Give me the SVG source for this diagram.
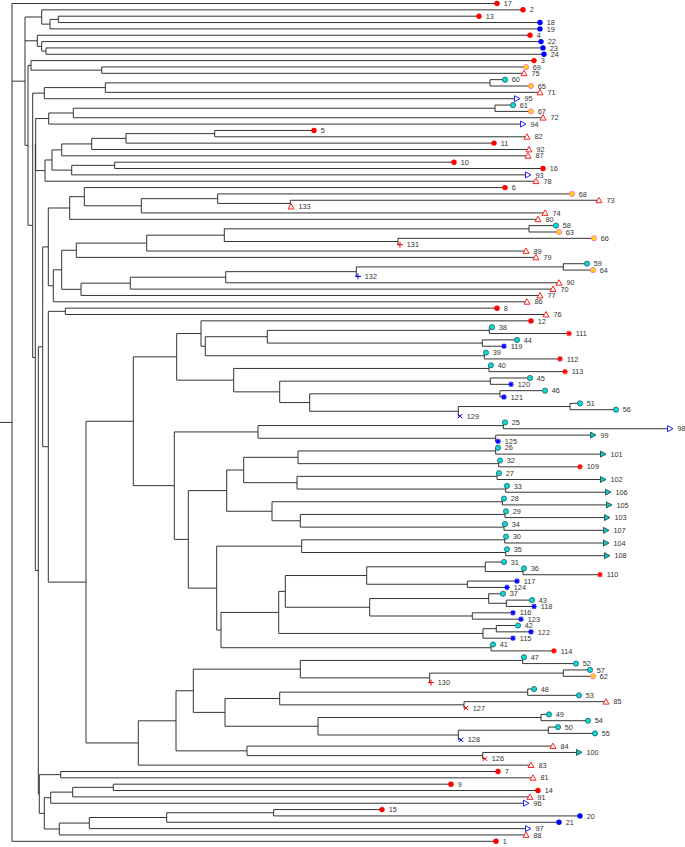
<svg xmlns="http://www.w3.org/2000/svg" xmlns:xlink="http://www.w3.org/1999/xlink" width="685" height="847" viewBox="0 0 685 847">
<style>
.e path{fill:none;stroke:#333;stroke-width:1;vector-effect:non-scaling-stroke}
text{font-family:"Liberation Sans",Arial,sans-serif;font-size:7.3px;fill:#333}
</style>
<defs>
<circle id="rd" r="2.7" fill="#ff0000"/>
<circle id="bd" r="2.7" fill="#0000ff"/>
<circle id="cy" r="2.6" fill="#10d8d8" stroke="#1f5f5f" stroke-width="0.8"/>
<circle id="yl" r="2.6" fill="#ffd800" stroke="#ff70d0" stroke-width="0.9"/>
<polygon id="rt" points="0,-3 3,2.4 -3,2.4" fill="#fff" stroke="#ff2020" stroke-width="1"/>
<polygon id="bt" points="-2.5,-3 3,0 -2.5,3" fill="#fff" stroke="#2020ff" stroke-width="1"/>
<polygon id="tt" points="-2.5,-3 3,0 -2.5,3" fill="#10c8c8" stroke="#1f4f4f" stroke-width="0.9"/>
<path id="rs" d="M-2.8 0H2.8M0 -2.8V2.8M-2 -2L2 2M-2 2L2 -2" stroke="#ff0000" stroke-width="1.1"/>
<path id="bs" d="M-2.8 0H2.8M0 -2.8V2.8M-2 -2L2 2M-2 2L2 -2" stroke="#0000ff" stroke-width="1.1"/>
<path id="rp" d="M-3 0H3M0 -3V3" stroke="#ff0000" stroke-width="1"/>
<path id="bp" d="M-3 0H3M0 -3V3" stroke="#0000ff" stroke-width="1"/>
<path id="rx" d="M-2.2 -2.2L2.2 2.2M-2.2 2.2L2.2 -2.2" stroke="#ff0000" stroke-width="1"/>
<path id="bx" d="M-2.2 -2.2L2.2 2.2M-2.2 2.2L2.2 -2.2" stroke="#0000ff" stroke-width="1"/>
</defs>
<rect width="685" height="847" fill="#fff"/>
<g id="edges" class="e" transform="translate(0,3.5) scale(1,6.347)">
<path d="M497 0H12V132H496M12 12.24H25M0 66H12"/>
<path d="M41.7 2.125H25V22.35H28M25 5.875H37.3"/>
<path d="M523 1H41.7V3.25H50"/>
<path d="M58.3 2.5H50V4H540"/>
<path d="M479 2H58.3V3H540"/>
<path d="M530 5H37.3V6.75H41.7"/>
<path d="M541 6H41.7V7.5H46"/>
<path d="M543 7H46V8H544"/>
<path d="M31 9.75H28V34.95H32.7"/>
<path d="M534 9H31V10.5H101.7"/>
<path d="M526 10H101.7V11H524"/>
<path d="M44.3 14.125H32.7V55.77H35.3"/>
<path d="M35.7 22.227H35.3V89.32H38.3"/>
<path d="M105.3 13.25H44.3V15H517"/>
<path d="M490 12.5H105.3V14H540"/>
<path d="M505 12H490V13H531"/>
<path d="M48.7 18.125H35.7V26.328H45"/>
<path d="M73.3 17.25H48.7V19H523"/>
<path d="M495 16.5H73.3V18H543"/>
<path d="M513 16H495V17H531"/>
<path d="M52 24.656H45V28H536"/>
<path d="M61.7 23.0625H52V26.25H71.7"/>
<path d="M91.7 22.125H61.7V24H528"/>
<path d="M126 21.25H91.7V23H529"/>
<path d="M214.7 20.5H126V22H494"/>
<path d="M314 20H214.7V21H527"/>
<path d="M114.7 25.5H71.7V27H528"/>
<path d="M454 25H114.7V26H543"/>
<path d="M42.7 54.09H38.3V124.547H39.3"/>
<path d="M48.3 38.348H42.7V69.832H48.3"/>
<path d="M69.7 32.219H48.3V44.477H53.3"/>
<path d="M84.3 30.4375H69.7V34H538"/>
<path d="M505 29H84.3V31.875H141.3"/>
<path d="M217.7 30.75H141.3V33H545"/>
<path d="M572 30H217.7V31.5H290.3"/>
<path d="M599 31H290.3V32H291"/>
<path d="M61.7 41.953H53.3V47H527"/>
<path d="M76.3 38.875H61.7V45.031H81"/>
<path d="M146.7 37.75H76.3V40H536"/>
<path d="M224.3 36.5H146.7V39H526"/>
<path d="M529 35.5H224.3V37.5H398"/>
<path d="M556 35H529V36H559"/>
<path d="M594 37H398V38H400"/>
<path d="M130.3 44.0625H81V46H540"/>
<path d="M225.7 43.125H130.3V45H553"/>
<path d="M356.3 42.25H225.7V44H559"/>
<path d="M563.3 41.5H356.3V43H358"/>
<path d="M587 41H563.3V42H593"/>
<path d="M65.3 48.5H48.3V91.164H86"/>
<path d="M497 48H65.3V49H546"/>
<path d="M133.3 65.82H86V116.508H138.3"/>
<path d="M176.7 55.672H133.3V75.965H174.3"/>
<path d="M201 52H176.7V59.344H233.7"/>
<path d="M531 50H201V54H205.3"/>
<path d="M267.3 52.5H205.3V55.5H484.3"/>
<path d="M489.3 51.5H267.3V53.5H482.3"/>
<path d="M492 51H489.3V52H569"/>
<path d="M517 53H482.3V54H504"/>
<path d="M486 55H484.3V56H560"/>
<path d="M489 57.5H233.7V61.1875H279.7"/>
<path d="M491 57H489V58H565"/>
<path d="M490.3 59.5H279.7V62.875H309.7"/>
<path d="M530 59H490.3V60H511"/>
<path d="M500 61.5H309.7V64.25H458.3"/>
<path d="M545 61H500V62H504"/>
<path d="M570 63.5H458.3V65H460"/>
<path d="M580 63H570V64H616"/>
<path d="M258 67.5H174.3V84.43H188.3"/>
<path d="M503.3 66.5H258V68.5H495.7"/>
<path d="M505 66H503.3V67H670"/>
<path d="M593 68H495.7V69H498"/>
<path d="M226.7 76.75H188.3V92.11H216.7"/>
<path d="M243.7 73.5H226.7V80H272"/>
<path d="M298 71.5H243.7V75.5H297"/>
<path d="M495.7 70.5H298V72.5H498.7"/>
<path d="M498 70H495.7V71H603"/>
<path d="M500 72H498.7V73H580"/>
<path d="M497 74.5H297V76.5H505.7"/>
<path d="M499 74H497V75H603"/>
<path d="M507 76H505.7V77H608"/>
<path d="M502.3 78.5H272V81.5H300.3"/>
<path d="M504 78H502.3V79H609"/>
<path d="M505 80.5H300.3V82.5H504"/>
<path d="M506 80H505V81H607"/>
<path d="M505 82H504V83H606"/>
<path d="M301.7 85.5H216.7V98.72H221"/>
<path d="M504.7 84.5H301.7V86.5H505.7"/>
<path d="M506 84H504.7V85H606"/>
<path d="M507 86H505.7V87H607"/>
<path d="M278.7 95.9375H221V101.5H491"/>
<path d="M285.3 92.625H278.7V99.25H483"/>
<path d="M366.7 90.125H285.3V95.125H369.7"/>
<path d="M485.3 88.75H366.7V91.5H467.3"/>
<path d="M504 88H485.3V89.5H523"/>
<path d="M524 89H523V90H600"/>
<path d="M517 91H467.3V92H507"/>
<path d="M488.7 93.75H369.7V96.5H472.3"/>
<path d="M503 93H488.7V94.5H506.3"/>
<path d="M532 94H506.3V95H534"/>
<path d="M513 96H472.3V97H521"/>
<path d="M496.3 98.5H483V100H513"/>
<path d="M518 98H496.3V99H531"/>
<path d="M493 101H491V102H554"/>
<path d="M176 113.016H138.3V120H531"/>
<path d="M193.3 108.28H176V117.75H247"/>
<path d="M300.3 104.875H193.3V111.6875H225"/>
<path d="M522.7 103.5H300.3V106.25H429.7"/>
<path d="M524 103H522.7V104H576"/>
<path d="M563.3 105.5H429.7V107H431"/>
<path d="M590 105H563.3V106H593"/>
<path d="M279.7 109.5H225V113.875H318"/>
<path d="M527.7 108.5H279.7V110.5H464"/>
<path d="M534 108H527.7V109H579"/>
<path d="M606 110H464V111H466"/>
<path d="M541 112.5H318V115.25H458.3"/>
<path d="M549 112H541V113H588"/>
<path d="M548.3 114.5H458.3V116H461"/>
<path d="M558 114H548.3V115H595"/>
<path d="M553 117H247V118.5H482.7"/>
<path d="M579 118H482.7V119H485"/>
<path d="M60.7 121.5H39.3V127.59H44.3"/>
<path d="M498 121H60.7V122H533"/>
<path d="M50.7 125.125H44.3V130.0625H59.3"/>
<path d="M72.7 124.25H50.7V126H526"/>
<path d="M113.3 123.5H72.7V125H530"/>
<path d="M451 123H113.3V124H538"/>
<path d="M89.3 129.125H59.3V131H526"/>
<path d="M166.7 128.25H89.3V130H528"/>
<path d="M273.7 127.5H166.7V129H559"/>
<path d="M382 127H273.7V128H580"/>
</g>
<g id="leaves">
<g id="n17" transform="translate(497,3.5)"><use href="#rd"/><text x="6.8" y="2.6">17</text></g>
<g id="n2" transform="translate(523,9.8)"><use href="#rd"/><text x="6.8" y="2.6">2</text></g>
<g id="n13" transform="translate(479,16.2)"><use href="#rd"/><text x="6.8" y="2.6">13</text></g>
<g id="n18" transform="translate(540,22.5)"><use href="#bd"/><text x="6.8" y="2.6">18</text></g>
<g id="n19" transform="translate(540,28.9)"><use href="#bd"/><text x="6.8" y="2.6">19</text></g>
<g id="n4" transform="translate(530,35.2)"><use href="#rd"/><text x="6.8" y="2.6">4</text></g>
<g id="n22" transform="translate(541,41.6)"><use href="#bd"/><text x="6.8" y="2.6">22</text></g>
<g id="n23" transform="translate(543,47.9)"><use href="#bd"/><text x="6.8" y="2.6">23</text></g>
<g id="n24" transform="translate(544,54.3)"><use href="#bd"/><text x="6.8" y="2.6">24</text></g>
<g id="n3" transform="translate(534,60.6)"><use href="#rd"/><text x="6.8" y="2.6">3</text></g>
<g id="n69" transform="translate(526,67)"><use href="#yl"/><text x="6.8" y="2.6">69</text></g>
<g id="n75" transform="translate(524,73.3)"><use href="#rt"/><text x="7.5" y="2.6">75</text></g>
<g id="n60" transform="translate(505,79.7)"><use href="#cy"/><text x="6.8" y="2.6">60</text></g>
<g id="n65" transform="translate(531,86)"><use href="#yl"/><text x="6.8" y="2.6">65</text></g>
<g id="n71" transform="translate(540,92.4)"><use href="#rt"/><text x="7.5" y="2.6">71</text></g>
<g id="n95" transform="translate(517,98.7)"><use href="#bt"/><text x="7.5" y="2.6">95</text></g>
<g id="n61" transform="translate(513,105.1)"><use href="#cy"/><text x="6.8" y="2.6">61</text></g>
<g id="n67" transform="translate(531,111.4)"><use href="#yl"/><text x="6.8" y="2.6">67</text></g>
<g id="n72" transform="translate(543,117.7)"><use href="#rt"/><text x="7.5" y="2.6">72</text></g>
<g id="n94" transform="translate(523,124.1)"><use href="#bt"/><text x="7.5" y="2.6">94</text></g>
<g id="n5" transform="translate(314,130.4)"><use href="#rd"/><text x="6.8" y="2.6">5</text></g>
<g id="n82" transform="translate(527,136.8)"><use href="#rt"/><text x="7.5" y="2.6">82</text></g>
<g id="n11" transform="translate(494,143.1)"><use href="#rd"/><text x="6.8" y="2.6">11</text></g>
<g id="n92" transform="translate(529,149.5)"><use href="#rt"/><text x="7.5" y="2.6">92</text></g>
<g id="n87" transform="translate(528,155.8)"><use href="#rt"/><text x="7.5" y="2.6">87</text></g>
<g id="n10" transform="translate(454,162.2)"><use href="#rd"/><text x="6.8" y="2.6">10</text></g>
<g id="n16" transform="translate(543,168.5)"><use href="#rd"/><text x="6.8" y="2.6">16</text></g>
<g id="n93" transform="translate(528,174.9)"><use href="#bt"/><text x="7.5" y="2.6">93</text></g>
<g id="n78" transform="translate(536,181.2)"><use href="#rt"/><text x="7.5" y="2.6">78</text></g>
<g id="n6" transform="translate(505,187.6)"><use href="#rd"/><text x="6.8" y="2.6">6</text></g>
<g id="n68" transform="translate(572,193.9)"><use href="#yl"/><text x="6.8" y="2.6">68</text></g>
<g id="n73" transform="translate(599,200.3)"><use href="#rt"/><text x="7.5" y="2.6">73</text></g>
<g id="n133" transform="translate(291,206.6)"><use href="#rt"/><text x="7.5" y="2.6">133</text></g>
<g id="n74" transform="translate(545,213)"><use href="#rt"/><text x="7.5" y="2.6">74</text></g>
<g id="n80" transform="translate(538,219.3)"><use href="#rt"/><text x="7.5" y="2.6">80</text></g>
<g id="n58" transform="translate(556,225.6)"><use href="#cy"/><text x="6.8" y="2.6">58</text></g>
<g id="n63" transform="translate(559,232)"><use href="#yl"/><text x="6.8" y="2.6">63</text></g>
<g id="n66" transform="translate(594,238.3)"><use href="#yl"/><text x="6.8" y="2.6">66</text></g>
<g id="n131" transform="translate(400,244.7)"><use href="#rp"/><text x="6.8" y="2.6">131</text></g>
<g id="n89" transform="translate(526,251)"><use href="#rt"/><text x="7.5" y="2.6">89</text></g>
<g id="n79" transform="translate(536,257.4)"><use href="#rt"/><text x="7.5" y="2.6">79</text></g>
<g id="n59" transform="translate(587,263.7)"><use href="#cy"/><text x="6.8" y="2.6">59</text></g>
<g id="n64" transform="translate(593,270.1)"><use href="#yl"/><text x="6.8" y="2.6">64</text></g>
<g id="n132" transform="translate(358,276.4)"><use href="#bp"/><text x="6.8" y="2.6">132</text></g>
<g id="n90" transform="translate(559,282.8)"><use href="#rt"/><text x="7.5" y="2.6">90</text></g>
<g id="n70" transform="translate(553,289.1)"><use href="#rt"/><text x="7.5" y="2.6">70</text></g>
<g id="n77" transform="translate(540,295.5)"><use href="#rt"/><text x="7.5" y="2.6">77</text></g>
<g id="n86" transform="translate(527,301.8)"><use href="#rt"/><text x="7.5" y="2.6">86</text></g>
<g id="n8" transform="translate(497,308.2)"><use href="#rd"/><text x="6.8" y="2.6">8</text></g>
<g id="n76" transform="translate(546,314.5)"><use href="#rt"/><text x="7.5" y="2.6">76</text></g>
<g id="n12" transform="translate(531,320.9)"><use href="#rd"/><text x="6.8" y="2.6">12</text></g>
<g id="n38" transform="translate(492,327.2)"><use href="#cy"/><text x="6.8" y="2.6">38</text></g>
<g id="n111" transform="translate(569,333.5)"><use href="#rs"/><text x="6.8" y="2.6">111</text></g>
<g id="n44" transform="translate(517,339.9)"><use href="#cy"/><text x="6.8" y="2.6">44</text></g>
<g id="n119" transform="translate(504,346.2)"><use href="#bs"/><text x="6.8" y="2.6">119</text></g>
<g id="n39" transform="translate(486,352.6)"><use href="#cy"/><text x="6.8" y="2.6">39</text></g>
<g id="n112" transform="translate(560,358.9)"><use href="#rs"/><text x="6.8" y="2.6">112</text></g>
<g id="n40" transform="translate(491,365.3)"><use href="#cy"/><text x="6.8" y="2.6">40</text></g>
<g id="n113" transform="translate(565,371.6)"><use href="#rs"/><text x="6.8" y="2.6">113</text></g>
<g id="n45" transform="translate(530,378)"><use href="#cy"/><text x="6.8" y="2.6">45</text></g>
<g id="n120" transform="translate(511,384.3)"><use href="#bs"/><text x="6.8" y="2.6">120</text></g>
<g id="n46" transform="translate(545,390.7)"><use href="#cy"/><text x="6.8" y="2.6">46</text></g>
<g id="n121" transform="translate(504,397)"><use href="#bs"/><text x="6.8" y="2.6">121</text></g>
<g id="n51" transform="translate(580,403.4)"><use href="#cy"/><text x="6.8" y="2.6">51</text></g>
<g id="n56" transform="translate(616,409.7)"><use href="#cy"/><text x="6.8" y="2.6">56</text></g>
<g id="n129" transform="translate(460,416.1)"><use href="#bx"/><text x="6.8" y="2.6">129</text></g>
<g id="n25" transform="translate(505,422.4)"><use href="#cy"/><text x="6.8" y="2.6">25</text></g>
<g id="n98" transform="translate(670,428.7)"><use href="#bt"/><text x="7.5" y="2.6">98</text></g>
<g id="n99" transform="translate(593,435.1)"><use href="#tt"/><text x="7.5" y="2.6">99</text></g>
<g id="n125" transform="translate(498,441.4)"><use href="#bs"/><text x="6.8" y="2.6">125</text></g>
<g id="n26" transform="translate(498,447.8)"><use href="#cy"/><text x="6.8" y="2.6">26</text></g>
<g id="n101" transform="translate(603,454.1)"><use href="#tt"/><text x="7.5" y="2.6">101</text></g>
<g id="n32" transform="translate(500,460.5)"><use href="#cy"/><text x="6.8" y="2.6">32</text></g>
<g id="n109" transform="translate(580,466.8)"><use href="#rs"/><text x="6.8" y="2.6">109</text></g>
<g id="n27" transform="translate(499,473.2)"><use href="#cy"/><text x="6.8" y="2.6">27</text></g>
<g id="n102" transform="translate(603,479.5)"><use href="#tt"/><text x="7.5" y="2.6">102</text></g>
<g id="n33" transform="translate(507,485.9)"><use href="#cy"/><text x="6.8" y="2.6">33</text></g>
<g id="n106" transform="translate(608,492.2)"><use href="#tt"/><text x="7.5" y="2.6">106</text></g>
<g id="n28" transform="translate(504,498.6)"><use href="#cy"/><text x="6.8" y="2.6">28</text></g>
<g id="n105" transform="translate(609,504.9)"><use href="#tt"/><text x="7.5" y="2.6">105</text></g>
<g id="n29" transform="translate(506,511.3)"><use href="#cy"/><text x="6.8" y="2.6">29</text></g>
<g id="n103" transform="translate(607,517.6)"><use href="#tt"/><text x="7.5" y="2.6">103</text></g>
<g id="n34" transform="translate(505,524)"><use href="#cy"/><text x="6.8" y="2.6">34</text></g>
<g id="n107" transform="translate(606,530.3)"><use href="#tt"/><text x="7.5" y="2.6">107</text></g>
<g id="n30" transform="translate(506,536.6)"><use href="#cy"/><text x="6.8" y="2.6">30</text></g>
<g id="n104" transform="translate(606,543)"><use href="#tt"/><text x="7.5" y="2.6">104</text></g>
<g id="n35" transform="translate(507,549.3)"><use href="#cy"/><text x="6.8" y="2.6">35</text></g>
<g id="n108" transform="translate(607,555.7)"><use href="#tt"/><text x="7.5" y="2.6">108</text></g>
<g id="n31" transform="translate(504,562)"><use href="#cy"/><text x="6.8" y="2.6">31</text></g>
<g id="n36" transform="translate(524,568.4)"><use href="#cy"/><text x="6.8" y="2.6">36</text></g>
<g id="n110" transform="translate(600,574.7)"><use href="#rs"/><text x="6.8" y="2.6">110</text></g>
<g id="n117" transform="translate(517,581.1)"><use href="#bs"/><text x="6.8" y="2.6">117</text></g>
<g id="n124" transform="translate(507,587.4)"><use href="#bs"/><text x="6.8" y="2.6">124</text></g>
<g id="n37" transform="translate(503,593.8)"><use href="#cy"/><text x="6.8" y="2.6">37</text></g>
<g id="n43" transform="translate(532,600.1)"><use href="#cy"/><text x="6.8" y="2.6">43</text></g>
<g id="n118" transform="translate(534,606.5)"><use href="#bs"/><text x="6.8" y="2.6">118</text></g>
<g id="n116" transform="translate(513,612.8)"><use href="#bs"/><text x="6.8" y="2.6">116</text></g>
<g id="n123" transform="translate(521,619.2)"><use href="#bs"/><text x="6.8" y="2.6">123</text></g>
<g id="n42" transform="translate(518,625.5)"><use href="#cy"/><text x="6.8" y="2.6">42</text></g>
<g id="n122" transform="translate(531,631.9)"><use href="#bs"/><text x="6.8" y="2.6">122</text></g>
<g id="n115" transform="translate(513,638.2)"><use href="#bs"/><text x="6.8" y="2.6">115</text></g>
<g id="n41" transform="translate(493,644.5)"><use href="#cy"/><text x="6.8" y="2.6">41</text></g>
<g id="n114" transform="translate(554,650.9)"><use href="#rs"/><text x="6.8" y="2.6">114</text></g>
<g id="n47" transform="translate(524,657.2)"><use href="#cy"/><text x="6.8" y="2.6">47</text></g>
<g id="n52" transform="translate(576,663.6)"><use href="#cy"/><text x="6.8" y="2.6">52</text></g>
<g id="n57" transform="translate(590,669.9)"><use href="#cy"/><text x="6.8" y="2.6">57</text></g>
<g id="n62" transform="translate(593,676.3)"><use href="#yl"/><text x="6.8" y="2.6">62</text></g>
<g id="n130" transform="translate(431,682.6)"><use href="#rp"/><text x="6.8" y="2.6">130</text></g>
<g id="n48" transform="translate(534,689)"><use href="#cy"/><text x="6.8" y="2.6">48</text></g>
<g id="n53" transform="translate(579,695.3)"><use href="#cy"/><text x="6.8" y="2.6">53</text></g>
<g id="n85" transform="translate(606,701.7)"><use href="#rt"/><text x="7.5" y="2.6">85</text></g>
<g id="n127" transform="translate(466,708)"><use href="#rx"/><text x="6.8" y="2.6">127</text></g>
<g id="n49" transform="translate(549,714.4)"><use href="#cy"/><text x="6.8" y="2.6">49</text></g>
<g id="n54" transform="translate(588,720.7)"><use href="#cy"/><text x="6.8" y="2.6">54</text></g>
<g id="n50" transform="translate(558,727.1)"><use href="#cy"/><text x="6.8" y="2.6">50</text></g>
<g id="n55" transform="translate(595,733.4)"><use href="#cy"/><text x="6.8" y="2.6">55</text></g>
<g id="n128" transform="translate(461,739.8)"><use href="#bx"/><text x="6.8" y="2.6">128</text></g>
<g id="n84" transform="translate(553,746.1)"><use href="#rt"/><text x="7.5" y="2.6">84</text></g>
<g id="n100" transform="translate(579,752.4)"><use href="#tt"/><text x="7.5" y="2.6">100</text></g>
<g id="n126" transform="translate(485,758.8)"><use href="#rx"/><text x="6.8" y="2.6">126</text></g>
<g id="n83" transform="translate(531,765.1)"><use href="#rt"/><text x="7.5" y="2.6">83</text></g>
<g id="n7" transform="translate(498,771.5)"><use href="#rd"/><text x="6.8" y="2.6">7</text></g>
<g id="n81" transform="translate(533,777.8)"><use href="#rt"/><text x="7.5" y="2.6">81</text></g>
<g id="n9" transform="translate(451,784.2)"><use href="#rd"/><text x="6.8" y="2.6">9</text></g>
<g id="n14" transform="translate(538,790.5)"><use href="#rd"/><text x="6.8" y="2.6">14</text></g>
<g id="n91" transform="translate(530,796.9)"><use href="#rt"/><text x="7.5" y="2.6">91</text></g>
<g id="n96" transform="translate(526,803.2)"><use href="#bt"/><text x="7.5" y="2.6">96</text></g>
<g id="n15" transform="translate(382,809.6)"><use href="#rd"/><text x="6.8" y="2.6">15</text></g>
<g id="n20" transform="translate(580,815.9)"><use href="#bd"/><text x="6.8" y="2.6">20</text></g>
<g id="n21" transform="translate(559,822.3)"><use href="#bd"/><text x="6.8" y="2.6">21</text></g>
<g id="n97" transform="translate(528,828.6)"><use href="#bt"/><text x="7.5" y="2.6">97</text></g>
<g id="n88" transform="translate(526,835)"><use href="#rt"/><text x="7.5" y="2.6">88</text></g>
<g id="n1" transform="translate(496,841.3)"><use href="#rd"/><text x="6.8" y="2.6">1</text></g>
</g>
</svg>
